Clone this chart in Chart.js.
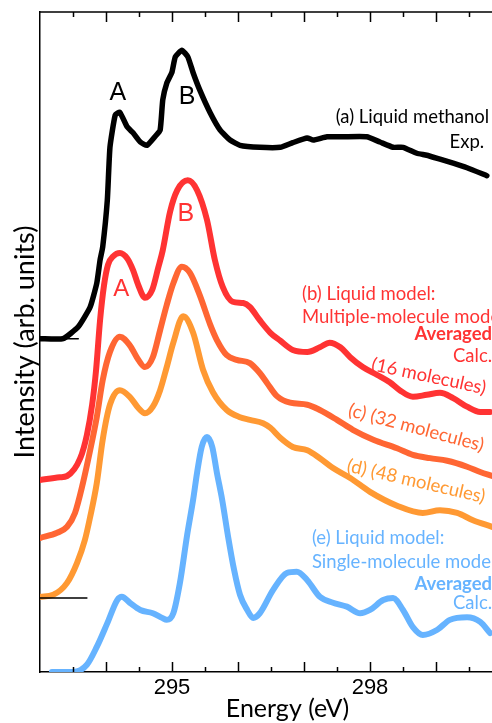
<!DOCTYPE html>
<html lang="en">
  <head>
    <meta charset="UTF-8" />
    <title>Liquid methanol XAS</title>
    <script src="https://cdn.jsdelivr.net/npm/chart.js"></script>
    <style>
      html, body { margin: 0; padding: 0; background: #fff; overflow: hidden; }
      #wrap { width: 492px; height: 723px; overflow: hidden; }
    </style>
  </head>
  <body>
    <div id="wrap">
      <canvas id="xasChart" width="535" height="723"></canvas>
    </div>

    <script>
      // energies (eV) and intensities (arb. units, curves stacked with offsets)
      const expE = [293.00, 293.35, 293.58, 293.76, 293.86, 293.91, 293.95, 294.02, 294.06, 294.14, 294.21, 294.32, 294.41, 294.52, 294.62, 294.74, 294.82, 294.86, 294.92, 295.00, 295.05, 295.15, 295.24, 295.32, 295.42, 295.58, 295.73, 295.88, 296.03, 296.33, 296.64, 296.83, 297.05, 297.14, 297.35, 297.59, 297.95, 298.15, 298.35, 298.50, 298.71, 298.86, 299.06, 299.26, 299.47, 299.77];
      const expI = [50.5, 50.5, 52.3, 55.3, 58.9, 62.4, 64.4, 71.5, 79.5, 84.4, 84.8, 82.6, 81.7, 80.3, 79.8, 81.1, 82.1, 86.7, 89.2, 90.9, 93.2, 94.2, 93.2, 90.8, 88.2, 84.7, 82.1, 80.6, 79.8, 79.5, 79.5, 80.2, 80.9, 80.6, 81.1, 81.1, 81.1, 80.3, 79.5, 79.5, 78.6, 78.3, 77.7, 77.1, 76.4, 75.2];

      const m16E = [293.00, 293.30, 293.41, 293.61, 293.71, 293.79, 293.85, 293.91, 293.97, 294.03, 294.11, 294.21, 294.32, 294.41, 294.49, 294.59, 294.70, 294.79, 294.86, 294.97, 295.08, 295.24, 295.38, 295.53, 295.65, 295.77, 295.92, 296.08, 296.18, 296.33, 296.49, 296.64, 296.83, 297.05, 297.24, 297.39, 297.55, 297.70, 297.89, 298.11, 298.30, 298.45, 298.65, 298.86, 299.06, 299.26, 299.47, 299.67, 299.82];
      const m16I = [29.1, 29.5, 29.7, 32.4, 35.9, 40.5, 45.8, 53.3, 58.6, 61.7, 63.0, 63.5, 62.7, 60.9, 58.6, 56.7, 57.9, 61.2, 63.9, 69.7, 73.0, 74.5, 73.0, 68.5, 62.4, 58.3, 56.1, 55.9, 55.3, 53.3, 51.4, 50.2, 48.8, 48.5, 49.2, 49.9, 49.2, 47.7, 46.2, 45.0, 43.9, 42.7, 41.7, 42.0, 42.3, 41.5, 40.2, 39.4, 39.4];

      const m32E = [293.00, 293.26, 293.41, 293.53, 293.65, 293.76, 293.86, 293.95, 294.06, 294.21, 294.36, 294.49, 294.59, 294.71, 294.82, 294.92, 295.02, 295.15, 295.27, 295.42, 295.58, 295.68, 295.83, 295.98, 296.18, 296.33, 296.44, 296.59, 296.79, 297.05, 297.24, 297.50, 297.74, 298.05, 298.41, 298.65, 298.91, 299.17, 299.47, 299.67, 299.85];
      const m32I = [20.3, 21.1, 22.0, 24.1, 28.6, 33.6, 38.6, 44.2, 48.5, 50.8, 49.5, 47.3, 46.2, 47.7, 51.8, 55.6, 58.9, 61.4, 60.5, 57.1, 52.6, 50.3, 48.0, 47.3, 46.8, 45.3, 43.8, 41.8, 40.8, 40.5, 39.7, 38.2, 36.7, 35.2, 33.9, 32.9, 32.4, 32.0, 31.1, 30.3, 29.7];

      const m48E = [293.00, 293.20, 293.41, 293.56, 293.68, 293.76, 293.86, 293.95, 294.06, 294.21, 294.36, 294.49, 294.59, 294.71, 294.82, 294.92, 295.02, 295.17, 295.32, 295.47, 295.62, 295.83, 296.03, 296.18, 296.38, 296.49, 296.64, 296.83, 297.05, 297.24, 297.44, 297.70, 298.00, 298.41, 298.80, 299.06, 299.32, 299.56, 299.85];
      const m48I = [11.4, 11.7, 13.5, 16.5, 20.0, 23.5, 28.6, 35.2, 40.5, 42.7, 41.7, 40.0, 39.2, 40.2, 42.7, 46.2, 49.9, 53.9, 51.4, 45.8, 42.4, 39.7, 38.6, 38.2, 37.7, 37.0, 35.5, 34.1, 33.6, 32.4, 30.9, 29.4, 27.3, 25.2, 24.1, 24.5, 24.1, 23.0, 22.0];

      const singleE = [293.18, 293.50, 293.71, 293.86, 294.02, 294.17, 294.24, 294.36, 294.52, 294.71, 294.85, 294.92, 295.02, 295.12, 295.23, 295.32, 295.38, 295.45, 295.53, 295.61, 295.68, 295.76, 295.85, 295.94, 296.03, 296.14, 296.23, 296.33, 296.53, 296.74, 296.89, 297.05, 297.24, 297.44, 297.65, 297.85, 298.00, 298.20, 298.35, 298.50, 298.65, 298.80, 299.02, 299.21, 299.47, 299.67, 299.82];
      const singleI = [0, 0, 1.1, 3.8, 7.4, 10.9, 11.4, 10.5, 9.4, 8.9, 8.2, 7.9, 8.9, 13.5, 20.8, 26.1, 30.2, 34.1, 35.6, 34.1, 30.2, 26.1, 20.5, 15.5, 11.7, 9.4, 8.2, 8.9, 12.4, 15.0, 15.2, 13.9, 11.4, 10.5, 9.9, 8.9, 9.4, 10.9, 11.2, 9.4, 6.8, 5.6, 6.4, 7.9, 8.3, 7.6, 5.9];

      // short baseline markers on the left axis
      const markA = [[293.0, 50.5], [293.58, 50.5]];
      const markD = [[293.0, 11.2], [293.71, 11.2]];

      const xLabelTicks = [295, 298];

      const RED = "#ff3333";
      const ORANGE_RED = "#ff6633";
      const ORANGE = "#ff9933";
      const BLUE = "#66b3ff";

      const pts = (xs, ys) => xs.map((x, i) => ({ x: x, y: ys[i] }));
      const pairs = (arr) => arr.map((p) => ({ x: p[0], y: p[1] }));

      // text labels [text, energy, intensity, align, color, font, rotation]
      const notes = [
        ["A", 294.18, 87.7, "center", "#000", "25px 'Liberation Sans'", 0],
        ["B", 295.23, 87.1, "center", "#000", "25px 'Liberation Sans'", 0],
        ["A", 294.23, 57.9, "center", RED, "24px 'Liberation Sans'", 0],
        ["B", 295.21, 69.4, "center", RED, "25px 'Liberation Sans'", 0],
        ["(a) Liquid methanol", 297.48, 84.1, "left", "#000", "18.5px Lato", 0],
        ["Exp.", 299.73, 80.3, "right", "#000", "18.5px Lato", 0],
        ["(b) Liquid model:", 296.97, 57.3, "left", RED, "18.5px Lato", 0],
        ["Multiple-molecule model", 296.97, 53.8, "left", RED, "18.5px Lato", 0],
        ["Averaged", 299.85, 51.2, "right", RED, "bold 18.5px Lato", 0],
        ["Calc.", 299.85, 47.9, "right", RED, "18.5px Lato", 0],
        ["(16 molecules)", 298.89, 44.8, "center", RED, "18.5px Lato", 12],
        ["(c) (32 molecules)", 298.70, 37.0, "center", ORANGE_RED, "18.5px Lato", 15],
        ["(d) (48 molecules)", 298.70, 28.9, "center", ORANGE, "18.5px Lato", 13],
        ["(e) Liquid model:", 297.12, 20.3, "left", BLUE, "18.5px Lato", 0],
        ["Single-molecule model", 297.12, 16.7, "left", BLUE, "18.5px Lato", 0],
        ["Averaged", 299.85, 13.3, "right", BLUE, "bold 18.5px Lato", 0],
        ["Calc.", 299.85, 10.5, "right", BLUE, "18.5px Lato", 0],
      ];

      // inward ticks, top frame line and text labels
      const framePlugin = {
        id: "frame",
        afterDraw(chart) {
          const { ctx, chartArea, scales } = chart;
          const xs = scales.x;
          const ys = scales.y;
          ctx.save();
          ctx.strokeStyle = "#000";
          ctx.lineWidth = 1.5;
          ctx.beginPath();
          ctx.moveTo(chartArea.left, chartArea.top);
          ctx.lineTo(chartArea.right, chartArea.top);
          for (let v = 293.5; v <= 300.5; v += 0.5) {
            const px = Math.round(xs.getPixelForValue(v)) + 0.5;
            const len = Number.isInteger(v) ? 10 : 5;
            ctx.moveTo(px, chartArea.bottom);
            ctx.lineTo(px, chartArea.bottom - len);
            ctx.moveTo(px, chartArea.top);
            ctx.lineTo(px, chartArea.top + len);
          }
          ctx.stroke();

          notes.forEach((n) => {
            const [text, e, inten, align, color, font, rot] = n;
            ctx.save();
            ctx.translate(xs.getPixelForValue(e), ys.getPixelForValue(inten));
            ctx.rotate((rot * Math.PI) / 180);
            ctx.font = font;
            ctx.fillStyle = color;
            ctx.textAlign = align;
            ctx.textBaseline = "middle";
            ctx.fillText(text, 0, 0);
            ctx.restore();
          });
          ctx.restore();
        },
      };

      const curve = (data, color, width) => ({
        data: data,
        borderColor: color,
        borderWidth: width,
        pointRadius: 0,
        fill: false,
        cubicInterpolationMode: "monotone",
        borderCapStyle: "round",
        borderJoinStyle: "round",
      });

      const ctx = document.getElementById("xasChart").getContext("2d");
      const myChart = new Chart(ctx, {
        type: "line",
        data: {
          datasets: [
            { ...curve(pairs(markA), "#000", 1.5), cubicInterpolationMode: "default" },
            { ...curve(pairs(markD), "#000", 1.5), cubicInterpolationMode: "default" },
            { ...curve(pts(expE, expI), "#000", 5.5), cubicInterpolationMode: "default", tension: 0.15 },
            curve(pts(m16E, m16I), RED, 6),
            curve(pts(m32E, m32I), ORANGE_RED, 6),
            curve(pts(m48E, m48I), ORANGE, 6),
            curve(pts(singleE, singleI), BLUE, 6),
          ],
        },
        options: {
          responsive: false,
          animation: false,
          devicePixelRatio: 1,
          layout: { padding: { top: 12, right: 0, left: 0, bottom: 0 } },
          plugins: { legend: { display: false }, tooltip: { enabled: false } },
          scales: {
            x: {
              type: "linear",
              min: 293,
              max: 300.5,
              afterFit(scale) { scale.height = 51; },
              afterBuildTicks(scale) {
                scale.ticks = xLabelTicks.map((v) => ({ value: v }));
              },
              grid: { display: false, drawTicks: false },
              border: { display: true, color: "#000", width: 1.5 },
              ticks: {
                autoSkip: false,
                maxRotation: 0,
                padding: 3,
                color: "#000",
                font: { family: "'Liberation Sans'", size: 22 },
              },
              title: {
                display: true,
                text: "Energy (eV)",
                color: "#000",
                font: { family: "Lato", size: 25 },
                padding: { top: 0, bottom: -1 },
              },
            },
            y: {
              min: 0,
              max: 100,
              afterFit(scale) { scale.width = 40; },
              grid: { display: false, drawTicks: false },
              border: { display: true, color: "#000", width: 1.5 },
              ticks: { display: false },
              title: {
                display: true,
                text: "Intensity (arb. units)",
                color: "#000",
                font: { family: "Lato", size: 27 },
                padding: { top: 9, bottom: 0 },
              },
            },
          },
        },
        plugins: [framePlugin],
      });
    </script>
  </body>
</html>
